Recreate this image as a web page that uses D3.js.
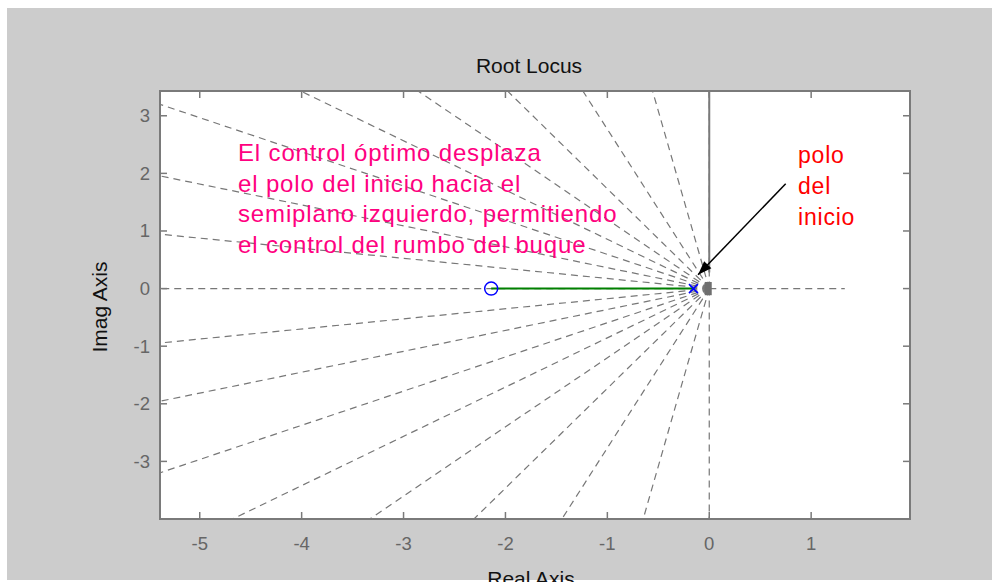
<!DOCTYPE html>
<html><head><meta charset="utf-8">
<script src="https://cdn.jsdelivr.net/npm/d3@7/dist/d3.min.js"></script>
<style>
html,body{margin:0;padding:0;background:#fff;}
svg{display:block;}
text{font-family:"Liberation Sans",Arial,sans-serif;}
</style></head>
<body>
<script>
// ---- data ----
const xTicks = [-5, -4, -3, -2, -1, 0, 1];
const yTicks = [-3, -2, -1, 0, 1, 2, 3];
const xDomain = [-5.39, 1.97];
const yDomain = [-4.0, 3.43];
const dampingRatios = [0.16, 0.34, 0.5, 0.64, 0.76, 0.86, 0.94, 0.985];
const realAxisGrid = [[-5.39, 0], [1.33, 0]];
const zeroPoints = [[-2.14, 0]];
const polePoints = [[-0.155, 0]];
const locusBranch = [[-2.14, 0], [-0.155, 0]];
const imagBranch = [[0, 3.43], [0, 0.28]];
const poleCluster = [[-0.01, 0.115], [-0.01, -0.115]];
const arrowFromTo = [[0.75, 1.82], [-0.11, 0.24]];
const noteLines = ["El control óptimo desplaza", "el polo del inicio hacia el", "semiplano izquierdo, permitiendo", "el control del rumbo del buque"];
const poleLabel = ["polo", "del", "inicio"];
const titleText = "Root Locus";
const xLabel = "Real Axis";
const yLabel = "Imag Axis";

const W = 992, H = 582;
const svg = d3.select("body").append("svg").attr("width", W).attr("height", H);
svg.append("rect").attr("x", 7).attr("y", 8).attr("width", W - 7).attr("height", 572).attr("fill", "#cccccc");

const L = 160, R = 910, T = 91, B = 519;
const x = d3.scaleLinear().domain(xDomain).range([L, R]);
const y = d3.scaleLinear().domain(yDomain).range([B, T]);

svg.append("rect").attr("x", L).attr("y", T).attr("width", R - L).attr("height", B - T).attr("fill", "#fff");
svg.append("clipPath").attr("id", "clip").append("rect").attr("x", L).attr("y", T).attr("width", R - L).attr("height", B - T);
const plot = svg.append("g").attr("clip-path", "url(#clip)");

const gridColor = "#777";
const dash = "7,5";
const line = d3.line().x(d => x(d[0])).y(d => y(d[1]));
const gridPath = pts => plot.append("path").attr("d", line(pts)).attr("fill", "none")
  .attr("stroke", gridColor).attr("stroke-width", 1.2).attr("stroke-dasharray", dash);

// damping ratio lines (start at origin)
const rFar = 12;
dampingRatios.forEach(z => {
  const th = Math.acos(z);
  [1, -1].forEach(s => gridPath([[0, 0], [-rFar * Math.cos(th), s * rFar * Math.sin(th)]]));
});
// zeta = 0 (imag axis) and zeta = 1 (real axis)
gridPath([[0, 0], [0, -rFar]]);
gridPath([[0, 0], [0, rFar]]);
gridPath([[0, 0], realAxisGrid[0]]);
gridPath([[0, 0], realAxisGrid[1]]);

// locus
plot.append("path").attr("d", line(imagBranch)).attr("fill", "none").attr("stroke", "#7a7a7a").attr("stroke-width", 2);
plot.append("path").attr("d", line(poleCluster)).attr("fill", "none").attr("stroke", "#6f6f6f").attr("stroke-width", 7);
plot.append("path").attr("d", line(locusBranch)).attr("fill", "none").attr("stroke", "#008000").attr("stroke-width", 2);

// zeros
plot.selectAll("circle.zero").data(zeroPoints).enter().append("circle")
  .attr("cx", d => x(d[0])).attr("cy", d => y(d[1])).attr("r", 6.5)
  .attr("fill", "none").attr("stroke", "#0000ff").attr("stroke-width", 1.5);
// poles
polePoints.forEach(p => {
  const cx = x(p[0]), cy = y(p[1]), s = 4.5;
  plot.append("path").attr("d", `M${cx - s},${cy - s}L${cx + s},${cy + s}M${cx - s},${cy + s}L${cx + s},${cy - s}`)
    .attr("stroke", "#0000ff").attr("stroke-width", 1.6);
});

// axes box and ticks
const axColor = "#7a7a7a";
svg.append("rect").attr("x", L).attr("y", T).attr("width", R - L).attr("height", B - T)
  .attr("fill", "none").attr("stroke", axColor).attr("stroke-width", 2);
const tl = 7;
xTicks.forEach(t => {
  const px = x(t);
  svg.append("line").attr("x1", px).attr("x2", px).attr("y1", B).attr("y2", B - tl).attr("stroke", axColor).attr("stroke-width", 1.5);
  svg.append("line").attr("x1", px).attr("x2", px).attr("y1", T).attr("y2", T + tl).attr("stroke", axColor).attr("stroke-width", 1.5);
  svg.append("text").attr("x", px).attr("y", 550).attr("text-anchor", "middle").attr("font-size", 18.5).attr("fill", "#666").text(t);
});
yTicks.forEach(t => {
  const py = y(t);
  svg.append("line").attr("x1", L).attr("x2", L + tl).attr("y1", py).attr("y2", py).attr("stroke", axColor).attr("stroke-width", 1.5);
  svg.append("line").attr("x1", R).attr("x2", R - tl).attr("y1", py).attr("y2", py).attr("stroke", axColor).attr("stroke-width", 1.5);
  svg.append("text").attr("x", 150).attr("y", py + 6.5).attr("text-anchor", "end").attr("font-size", 18.5).attr("fill", "#666").text(t);
});

// titles
svg.append("text").attr("x", 529).attr("y", 73).attr("text-anchor", "middle").attr("font-size", 21).attr("fill", "#111").text(titleText);
svg.append("text").attr("x", 531).attr("y", 586).attr("text-anchor", "middle").attr("font-size", 21).attr("fill", "#111").text(xLabel);
svg.append("text").attr("transform", "translate(107,307) rotate(-90)").attr("text-anchor", "middle").attr("font-size", 21).attr("fill", "#111").text(yLabel);

// annotations
noteLines.forEach((s, i) => {
  svg.append("text").attr("x", 238).attr("y", 161 + i * 30.5).attr("font-size", 24).attr("letter-spacing", 0.85)
    .attr("fill", "#ff0080").text(s);
});
poleLabel.forEach((s, i) => {
  svg.append("text").attr("x", 798).attr("y", 163 + i * 31).attr("font-size", 23).attr("letter-spacing", 0.8)
    .attr("fill", "#ff0000").text(s);
});

// arrow
const a0 = [x(arrowFromTo[0][0]), y(arrowFromTo[0][1])];
const a1 = [x(arrowFromTo[1][0]), y(arrowFromTo[1][1])];
svg.append("line").attr("x1", a0[0]).attr("y1", a0[1]).attr("x2", a1[0]).attr("y2", a1[1]).attr("stroke", "#000").attr("stroke-width", 1.5);
const ang = Math.atan2(a1[1] - a0[1], a1[0] - a0[0]);
const hl = 14, hw = 5;
const bx = a1[0] - hl * Math.cos(ang), by = a1[1] - hl * Math.sin(ang);
svg.append("path").attr("d", `M${a1[0]},${a1[1]}L${bx + hw * Math.sin(ang)},${by - hw * Math.cos(ang)}L${bx - hw * Math.sin(ang)},${by + hw * Math.cos(ang)}Z`).attr("fill", "#000");
</script>
</body></html>
